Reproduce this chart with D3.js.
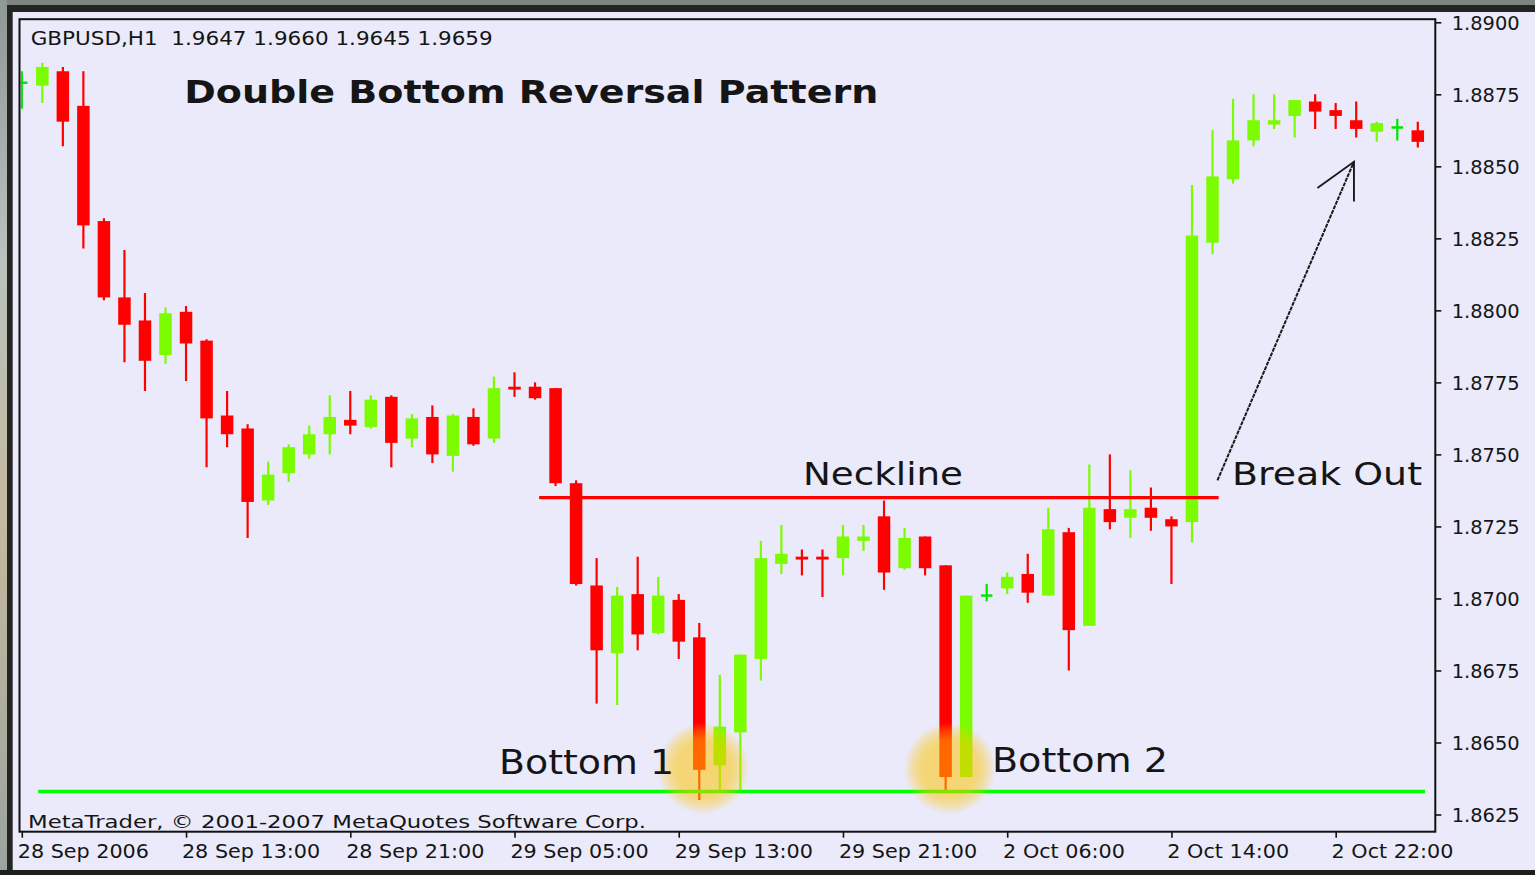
<!DOCTYPE html>
<html><head><meta charset="utf-8">
<script src="https://cdn.jsdelivr.net/npm/d3@7"></script>
<style>
html,body{margin:0;padding:0;background:#EAEAFA;overflow:hidden;}
svg{display:block;}
text{font-family:"DejaVu Sans",Verdana,sans-serif;fill:#151515;}
</style></head><body>
<svg id="chart" width="1535" height="875"></svg>
<script>
// ---------- data ----------
const symbolInfo = "GBPUSD,H1  1.9647 1.9660 1.9645 1.9659";
const chartTitle = "Double Bottom Reversal Pattern";
const copyright = "MetaTrader, \u00A9 2001-2007 MetaQuotes Software Corp.";

const opens  = [1.8879,1.8878,1.8883,1.8871,1.8831,1.88045,1.87965,1.87845,1.87995,1.87895,
                1.87635,1.8759,1.8734,1.87435,1.8750,1.8757,1.8762,1.87595,1.8770,1.87555,
                1.8763,1.87495,1.8763,1.87555,1.87735,1.87735,1.8773,1.8740,1.87045,1.8681,
                1.87015,1.8688,1.86995,1.86865,1.8642,1.86535,1.8679,1.8712,1.87145,1.87145,
                1.8714,1.8720,1.87285,1.87105,1.87215,1.87115,1.8638,1.8701,1.87035,1.87085,
                1.8701,1.8723,1.86905,1.8731,1.8728,1.87315,1.87275,1.87265,1.88235,1.88455,
                1.8859,1.88645,1.88675,1.88725,1.88695,1.8866,1.8862,1.88635,1.88625];
const highs  = [1.8883,1.8886,1.88845,1.8883,1.8832,1.8821,1.8806,1.8801,1.88015,1.8790,
                1.8772,1.87605,1.87475,1.87535,1.8760,1.87705,1.8772,1.87705,1.87705,1.8764,
                1.8767,1.8764,1.8766,1.8777,1.87785,1.8775,1.8773,1.8741,1.8714,1.8704,
                1.87145,1.87075,1.87015,1.86915,1.86735,1.86805,1.8720,1.87255,1.8717,1.8717,
                1.87255,1.87255,1.8734,1.87245,1.87215,1.87115,1.8701,1.8705,1.8709,1.87155,
                1.87315,1.87245,1.87465,1.8750,1.87445,1.87385,1.87285,1.88435,1.88625,1.88735,
                1.8875,1.8875,1.8873,1.8875,1.8872,1.88725,1.88655,1.88665,1.88655];
const lows   = [1.8870,1.8872,1.8857,1.88215,1.88035,1.8782,1.8772,1.87815,1.87755,1.87455,
                1.87525,1.8721,1.87325,1.87405,1.87485,1.8750,1.8757,1.8759,1.87455,1.87525,
                1.8747,1.8744,1.8753,1.8754,1.8770,1.8769,1.8739,1.87045,1.86635,1.8663,
                1.8682,1.86875,1.8679,1.8630,1.86335,1.86335,1.86715,1.87085,1.8708,1.87005,
                1.8708,1.87165,1.8703,1.8710,1.8708,1.86335,1.8638,1.8699,1.87015,1.86985,
                1.8701,1.8675,1.86905,1.8724,1.8721,1.87235,1.8705,1.87195,1.88195,1.8844,
                1.8857,1.8863,1.8860,1.8863,1.8863,1.8860,1.88585,1.8859,1.88565];
const closes = [1.8879,1.88845,1.88655,1.88295,1.88045,1.8795,1.87825,1.8799,1.87885,1.87625,
                1.8757,1.87335,1.8743,1.87525,1.8757,1.8763,1.8760,1.8769,1.8754,1.87625,
                1.8750,1.87635,1.87535,1.8773,1.87725,1.87695,1.8740,1.8705,1.8682,1.8701,
                1.86875,1.8701,1.8685,1.86405,1.86555,1.86805,1.8714,1.87155,1.87135,1.87135,
                1.87215,1.87215,1.8709,1.8721,1.87105,1.8638,1.8701,1.8701,1.87075,1.8702,
                1.8724,1.8689,1.87315,1.87265,1.8731,1.8728,1.8725,1.8826,1.88465,1.8859,
                1.8866,1.8866,1.8873,1.8869,1.88675,1.8863,1.8865,1.88635,1.88585];

const xTickIndex  = [0,8,16,24,32,40,48,56,64];
const xTickLabels = ["28 Sep 2006","28 Sep 13:00","28 Sep 21:00","29 Sep 05:00","29 Sep 13:00",
                     "29 Sep 21:00","2 Oct 06:00","2 Oct 14:00","2 Oct 22:00"];
const yTicks = [1.8625,1.8650,1.8675,1.8700,1.8725,1.8750,1.8775,1.8800,1.8825,1.8850,1.8875,1.8900];

const necklinePrice = 1.8735, necklineFrom = 25.2, necklineTo = 58.3;
const supportPrice  = 1.8633, supportFrom  = 0.8,  supportTo  = 68.35;
const bottomIdx   = [33.2, 45.2];
const bottomPrice = [1.8641, 1.8641];
const arrowTail = [58.24, 1.8741], arrowTip = [64.89, 1.88516];
const arrowHeadL = [63.11, 1.88425], arrowHeadR = [64.89, 1.88378];

// ---------- drawing ----------
const W = 1535, H = 875;
const svg = d3.select("#chart");
const x = d3.scaleLinear().domain([0, 68]).range([21.8, 1417.8]);
const y = d3.scaleLinear().domain([1.8625, 1.8900]).range([814.5, 22.3]);

const defs = svg.append("defs");
defs.append("clipPath").attr("id","plotclip").append("rect")
  .attr("x",20.5).attr("y",20.2).attr("width",1413.5).attr("height",810.5);
const g1 = defs.append("radialGradient").attr("id","glow");
[[0,0.55],[0.62,0.52],[0.82,0.3],[1,0]].forEach(([o,a]) =>
  g1.append("stop").attr("offset",o).attr("stop-color","#FFC400").attr("stop-opacity",a));
const lg = defs.append("linearGradient").attr("id","edge").attr("x1",0).attr("y1",0).attr("x2",0).attr("y2",1);
[[0,"#8f9893"],[0.3,"#b9c2bc"],[0.6,"#c4b99e"],[1,"#9aa49f"]].forEach(([o,c]) =>
  lg.append("stop").attr("offset",o).attr("stop-color",c));

// background & outer frame
svg.append("rect").attr("width",W).attr("height",H).attr("fill","#EAEAFA");
svg.append("rect").attr("x",0).attr("y",0).attr("width",W).attr("height",5).attr("fill","#7d8581");
svg.append("rect").attr("x",0).attr("y",5).attr("width",W).attr("height",7).attr("fill","#242424");
svg.append("rect").attr("x",0).attr("y",0).attr("width",7).attr("height",H).attr("fill","url(#edge)");
svg.append("rect").attr("x",7).attr("y",5).attr("width",5.7).attr("height",H-5).attr("fill","#242424");
svg.append("rect").attr("x",0).attr("y",870).attr("width",W).attr("height",5).attr("fill","#1e1e1e");

// candles
const RED = "#FF0000", GREEN = "#7CFC00", DOJI = "#00E400";
const bodyW = 12.5;
const candles = d3.range(opens.length).map(i => ({i, o:opens[i], h:highs[i], l:lows[i], c:closes[i]}));
const colorOf = d => d.o === d.c ? DOJI : (d.c > d.o ? GREEN : RED);
const plotG = svg.append("g").attr("clip-path","url(#plotclip)");
const cg = plotG.selectAll("g.candle").data(candles).join("g").attr("class","candle");
cg.append("line")
  .attr("x1", d => x(d.i)).attr("x2", d => x(d.i))
  .attr("y1", d => y(d.h)).attr("y2", d => y(d.l))
  .attr("stroke", colorOf).attr("stroke-width", 2.2);
cg.filter(d => d.o !== d.c).append("rect")
  .attr("x", d => x(d.i) - bodyW/2)
  .attr("y", d => y(Math.max(d.o,d.c)))
  .attr("width", bodyW)
  .attr("height", d => Math.max(2.5, y(Math.min(d.o,d.c)) - y(Math.max(d.o,d.c))))
  .attr("fill", colorOf);
cg.filter(d => d.o === d.c).append("line")
  .attr("x1", d => x(d.i) - bodyW/2 + 0.5).attr("x2", d => x(d.i) + bodyW/2 - 0.5)
  .attr("y1", d => y(d.o)).attr("y2", d => y(d.o))
  .attr("stroke", DOJI).attr("stroke-width", 2.4);

// neckline and support
plotG.append("line").attr("x1",x(necklineFrom)).attr("x2",x(necklineTo))
  .attr("y1",y(necklinePrice)).attr("y2",y(necklinePrice))
  .attr("stroke","#FF0000").attr("stroke-width",3.2);
plotG.append("line").attr("x1",x(supportFrom)).attr("x2",x(supportTo))
  .attr("y1",y(supportPrice)).attr("y2",y(supportPrice))
  .attr("stroke","#00FF00").attr("stroke-width",3.6);

// glows
plotG.selectAll("circle.glow").data(bottomIdx).join("circle").attr("class","glow")
  .attr("cx", d => x(d)).attr("cy", (d,k) => y(bottomPrice[k])).attr("r", 46)
  .attr("fill","url(#glow)");

// arrow
const line = d3.line().x(d => x(d[0])).y(d => y(d[1]));
plotG.append("path").attr("d", line([arrowTail, arrowTip]))
  .attr("fill","none").attr("stroke","#1a1a1a").attr("stroke-width",2).attr("stroke-dasharray","4,1");
plotG.append("path").attr("d", line([arrowHeadL, arrowTip, arrowHeadR]))
  .attr("fill","none").attr("stroke","#1a1a1a").attr("stroke-width",1.9);

// frame
svg.append("rect").attr("x",19.5).attr("y",19.2).attr("width",1415.8).attr("height",812.5)
  .attr("fill","none").attr("stroke","#111").attr("stroke-width",2);

// axes
const yAxis = svg.append("g").attr("transform","translate(1435.3,0)")
  .call(d3.axisRight(y).tickValues(yTicks).tickSize(6).tickFormat(d3.format(".4f")));
yAxis.select(".domain").remove();
yAxis.selectAll(".tick line").attr("stroke","#111").attr("stroke-width",1.6);
yAxis.selectAll(".tick text").attr("x",16.4).attr("dy","0.36em")
  .style("font-family",'"DejaVu Sans",Verdana,sans-serif').style("font-size","19px").attr("fill","#151515")
  .attr("textLength",68).attr("lengthAdjust","spacingAndGlyphs");

const xAxis = svg.append("g").attr("transform","translate(0,831.7)")
  .call(d3.axisBottom(x).tickValues(xTickIndex).tickSize(6).tickFormat((d,k) => xTickLabels[k]));
xAxis.select(".domain").remove();
xAxis.selectAll(".tick line").attr("stroke","#111").attr("stroke-width",1.6);
xAxis.selectAll(".tick text").attr("y",26.6).attr("dy",0).attr("x",-4.6)
  .attr("text-anchor","start")
  .style("font-family",'"DejaVu Sans",Verdana,sans-serif').style("font-size","19px").attr("fill","#151515")
  .each(function(){ const w = this.getComputedTextLength();
    d3.select(this).attr("textLength", w*1.09).attr("lengthAdjust","spacingAndGlyphs"); });

// texts
function label(str, px, py, size, len, weight){
  return svg.append("text").attr("x",px).attr("y",py).style("font-size",size+"px")
    .style("font-weight",weight||"normal").style("white-space","pre")
    .attr("textLength",len).attr("lengthAdjust","spacingAndGlyphs").text(str);
}
label(symbolInfo, 30.7, 45, 20, 462);
label(chartTitle, 184.3, 103.3, 32, 694, "bold");
label("Neckline", 803, 485, 32, 160);
label("Break Out", 1232, 484.5, 32, 190);
label("Bottom 1", 499, 774, 33, 175);
label("Bottom 2", 992, 771.7, 33, 176);
label(copyright, 28, 828.3, 18.5, 618);
</script>
</body></html>
